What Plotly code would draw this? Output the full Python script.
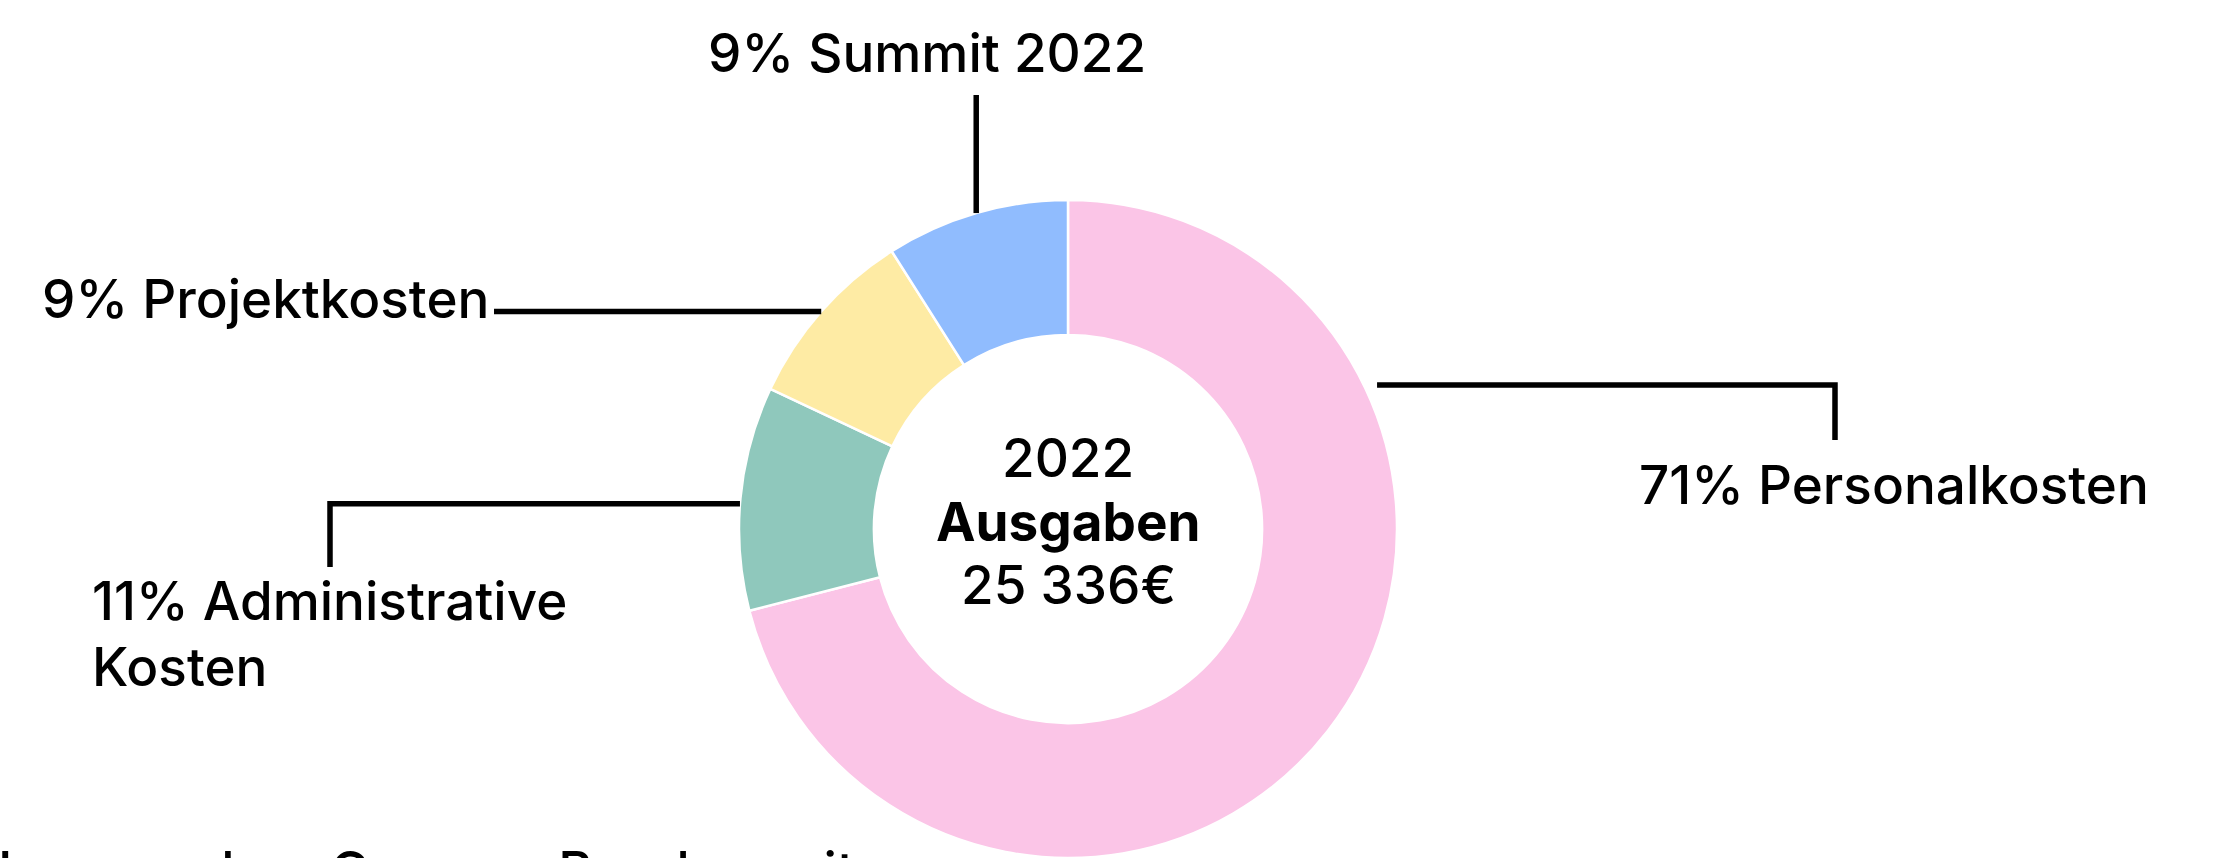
import math
import plotly.graph_objects as go

# ---------------- data ----------------
categories = ["Personalkosten", "Administrative Kosten", "Projektkosten", "Summit 2022"]
percent = [71, 11, 9, 9]
colors = ["#FBC5E7", "#8FC8BC", "#FEEBA4", "#90BCFE"]
label_lines = [["71% Personalkosten"], ["11% Administrative", "Kosten"],
               ["9% Projektkosten"], ["9% Summit 2022"]]
center_year = "2022"
center_title = "Ausgaben"
center_total = "25 336€"
caption = "Lernen ohne Grenzen Bundesweit"

# ---------------- layout helpers ----------------
W, H = 2213, 858
CX, CY, R = 1068, 529, 329
FONT = "Inter, 'Noto Sans', sans-serif"
FS = 53
FW = 500


def px(x):
    return x / W


def py(y):
    return 1 - y / H


def polar(theta_deg, r):
    t = math.radians(theta_deg)
    return CX + r * math.sin(t), CY - r * math.cos(t)


total = sum(percent)
mid_angles = []
acc = 0
for v in percent:
    mid_angles.append((acc + v / 2) / total * 360)
    acc += v

fig = go.Figure(go.Pie(
    labels=categories, values=percent, sort=False, direction="clockwise",
    rotation=0, hole=0.59, textinfo="none", hoverinfo="label+percent",
    marker=dict(colors=colors, line=dict(color="white", width=2.5)),
    domain=dict(x=[px(CX - R), px(CX + R)], y=[py(CY + R), py(CY - R)]),
    showlegend=False,
))

annotations = []


def ann(text, x, y, xanchor="left", size=FS, weight=FW):
    annotations.append(dict(text=text, x=px(x), y=py(y), xref="paper", yref="paper",
                            xanchor=xanchor, yanchor="middle", showarrow=False,
                            font=dict(family=FONT, size=size, color="#000", weight=weight)))


# center text
ann(center_year, CX, 458, "center")
ann("<b>" + center_title + "</b>", CX, 522, "center", weight=700)
ann(center_total, CX, 585, "center")

# slice labels
ann(label_lines[0][0], 1637, 485, "left")
ann(label_lines[1][0], 90, 601, "left")
ann(label_lines[1][1], 90, 667, "left")
ann(label_lines[2][0], 40, 299, "left")
ann(label_lines[3][0], 927, 53, "center")

# cut-off caption at the bottom
ann(caption, -4, 871, "left")

shapes = []


def path(points):
    d = "M " + " L ".join(f"{px(x):.5f},{py(y):.5f}" for x, y in points)
    shapes.append(dict(type="path", path=d, xref="paper", yref="paper",
                       line=dict(color="#000", width=5.5)))


# Personalkosten leader
x0, y0 = polar(65.0, R + 12)
path([(x0, y0), (1835, y0), (1835, 440)])
# Administrative leader
x0, y0 = polar(mid_angles[1] - 1.0, R)
path([(x0, y0), (330, y0), (330, 567)])
# Projektkosten leader
x0, y0 = polar(mid_angles[2], R)
path([(x0, y0), (494, y0)])
# Summit leader
x0, y0 = polar(mid_angles[3], R)
path([(x0, y0), (x0, 95)])

fig.update_layout(width=W, height=H, margin=dict(l=0, r=0, t=0, b=0),
                  paper_bgcolor="white", plot_bgcolor="white",
                  annotations=annotations, shapes=shapes)

fig.write_html("out.html", config={"displayModeBar": False},
               post_script="document.body.style.margin='0';document.body.style.overflow='hidden';")
